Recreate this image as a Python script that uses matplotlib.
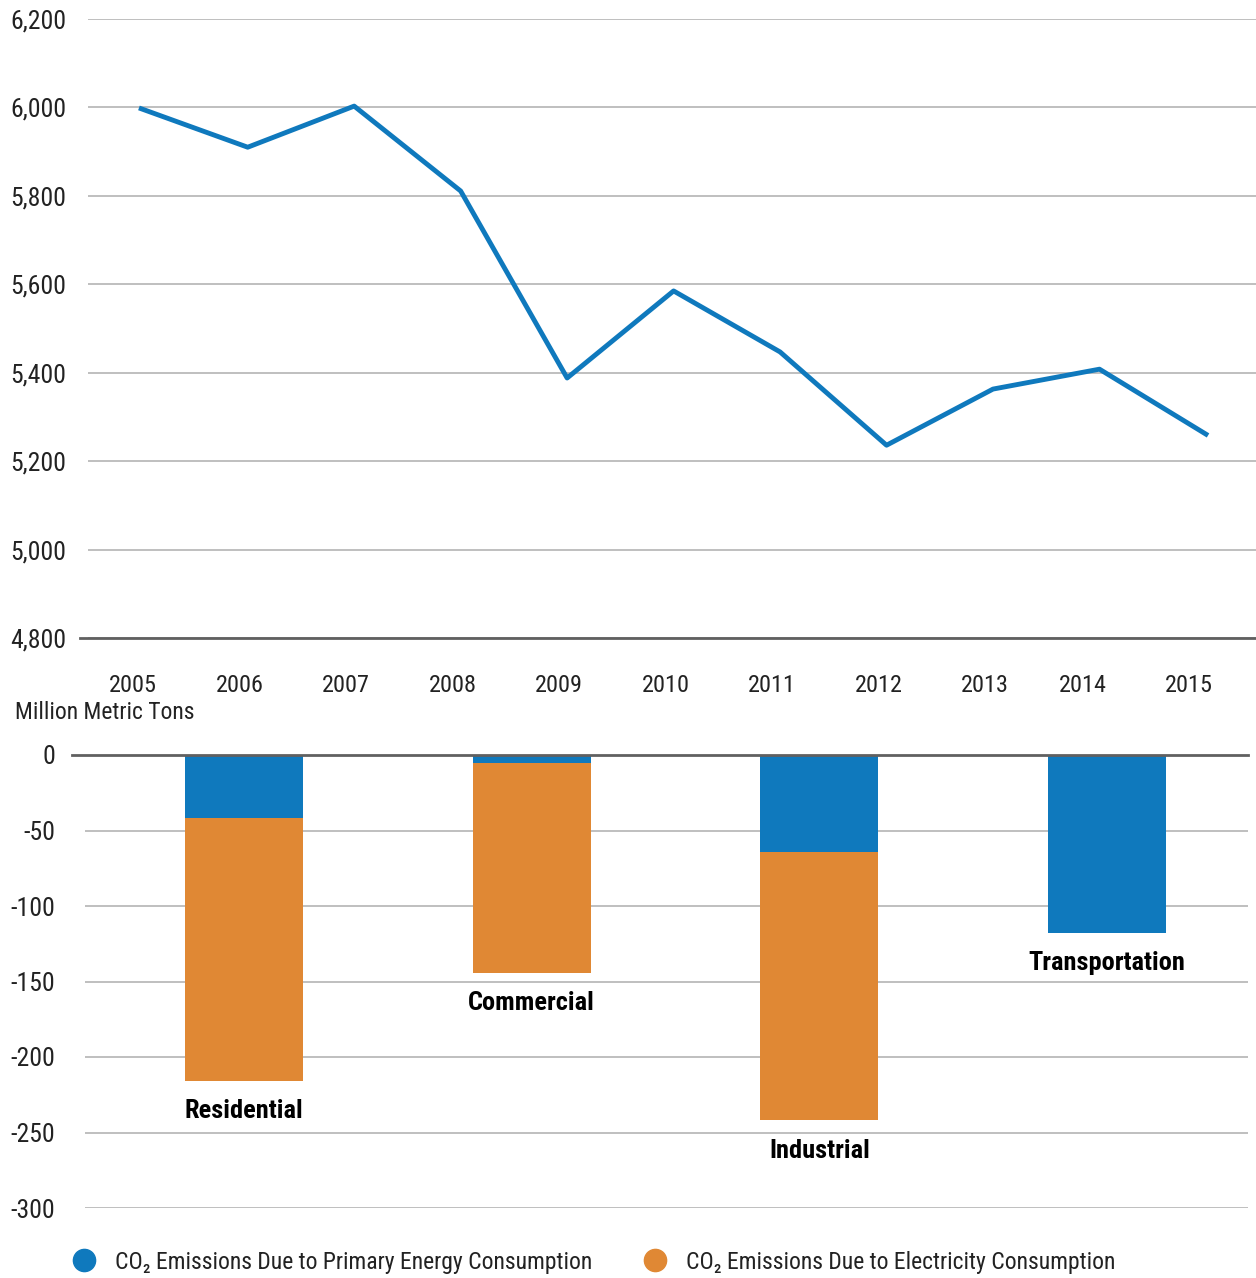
import matplotlib.pyplot as plt
from matplotlib.lines import Line2D

plt.rcParams['font.family'] = ['Roboto Condensed', 'Roboto', 'DejaVu Sans']
plt.rcParams['axes.unicode_minus'] = False

years = [2005, 2006, 2007, 2008, 2009, 2010, 2011, 2012, 2013, 2014, 2015]
emissions = [5997, 5910, 6003, 5811, 5388, 5585, 5447, 5236, 5363, 5408, 5261]

sectors = ['Residential', 'Commercial', 'Industrial', 'Transportation']
primary_change = [-41.5, -5.5, -64, -118]
electricity_change = [-174.5, -139, -178, 0]

blue = '#0f79bd'
orange = '#e08834'
grid_col = '#b4b4b4'
axis_col = '#606060'
text_col = '#222222'
W, H = 1256, 1278

fig = plt.figure(figsize=(12.56, 12.78), dpi=100)

# top: total emissions line
ax1 = fig.add_axes([88 / W, 1 - 638 / H, 1 - 88 / W, (638 - 19) / H])
ax1.plot(years, emissions, color=blue, lw=3.5)
ax1.set_ylim(4800, 6200)
ax1.set_xlim(2004.5, 2015.47)
ax1.set_yticks(range(4800, 6201, 200))
ax1.set_yticklabels([f'{v:,}' for v in range(4800, 6201, 200)])
# the year labels sit a little left of the data points (offsets in px)
shifts = [-8, -8, -8, -8, -8, -8, -8, -8, -8, -17, -17]
ax1.set_xticks([y + dx / 106.5 for y, dx in zip(years, shifts)])
ax1.set_xticklabels([str(y) for y in years])
ax1.grid(axis='y', color=grid_col, lw=1.2)
ax1.set_axisbelow(True)
for s in ['top', 'right', 'left', 'bottom']:
    ax1.spines[s].set_visible(False)
ax1.axhline(4800, xmin=-8 / 1168, xmax=1, color=axis_col, lw=2, clip_on=False)
ax1.tick_params(axis='both', length=0, colors=text_col)
ax1.tick_params(axis='y', pad=15.5, labelsize=18.5)
ax1.tick_params(axis='x', pad=26, labelsize=17.5)

fig.text(15 / W, 1 - 712 / H, 'Million Metric Tons', fontsize=17,
         color=text_col, va='center', ha='left')

# bottom: sector changes
ax2 = fig.add_axes([85 / W, 1 - 1208 / H, (1248 - 85) / W, (1208 - 755) / H])
xpos = range(len(sectors))
ax2.bar(xpos, primary_change, width=0.41, color=blue, zorder=2)
ax2.bar(xpos, electricity_change, width=0.41, bottom=primary_change, color=orange, zorder=2)
ax2.set_xlim(-0.553, 3.49)
ax2.set_ylim(-300, 0)
ax2.set_yticks(range(-300, 1, 50))
ax2.set_xticks([])
ax2.grid(axis='y', color=grid_col, lw=1.2)
ax2.set_axisbelow(True)
for s in ['top', 'right', 'left', 'bottom']:
    ax2.spines[s].set_visible(False)
ax2.axhline(0, xmin=-13 / 1163, xmax=1, color=axis_col, lw=2, clip_on=False, zorder=3)
ax2.tick_params(axis='y', length=0, labelsize=18.5, colors=text_col, pad=21.5)

for i, name in enumerate(sectors):
    end = primary_change[i] + electricity_change[i]
    ax2.text(i, end - 20, name, ha='center', va='center', fontsize=19,
             fontweight='bold', color='black')

# legend
labels = ['CO₂ Emissions Due to Primary Energy Consumption',
          'CO₂ Emissions Due to Electricity Consumption']
for col, lab, mx, tx in [(blue, labels[0], 84, 115), (orange, labels[1], 655, 686)]:
    fig.add_artist(Line2D([mx / W], [1 - 1260 / H], marker='o', ls='', markersize=16,
                          color=col, transform=fig.transFigure))
    fig.text(tx / W, 1 - 1262 / H, lab, fontsize=17, color=text_col, va='center', ha='left')

fig.savefig('out.png', dpi=100)
